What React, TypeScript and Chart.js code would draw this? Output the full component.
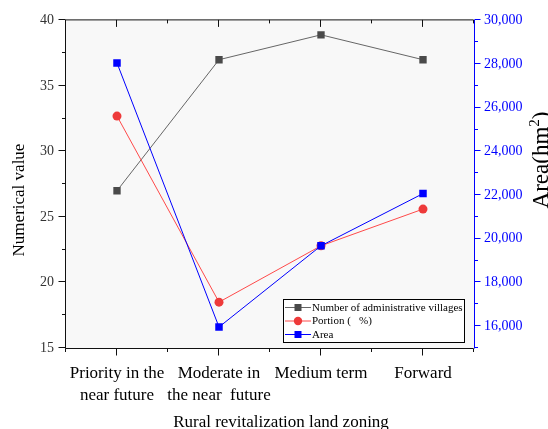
import React, { useEffect, useRef } from "react";
import { Chart, registerables } from "chart.js";

Chart.register(...registerables);

// ---- data ----
const categories: (string | string[])[] = [
  ["Priority in the", "near future"],
  ["Moderate in", "the near  future"],
  "Medium term",
  "Forward",
];
const villages = [27, 37, 38.9, 37];
const portion = [32.7, 18.5, 22.8, 25.6];
const area = [28050, 15960, 19680, 22070];

const leftMin = 15;
const leftMax = 40;
const leftStep = 5;
const rightMin = 15000;
const rightMax = 30000;
const rightStep = 2000;
const rightTickValues = [16000, 18000, 20000, 22000, 24000, 26000, 28000, 30000];

const seriesNames = ["Number of administrative villages", "Portion (   %)", "Area"];
const xTitle = "Rural revitalization land zoning";
const yTitle = "Numerical value";

const SERIF = "'Liberation Serif', 'Times New Roman', serif";

const framePlugin = {
  id: "frame",
  beforeDraw(chart: any) {
    const { ctx, chartArea } = chart;
    const { left, top, right, bottom } = chartArea;
    ctx.save();
    ctx.fillStyle = "#ffffff";
    ctx.fillRect(0, 0, chart.width, chart.height);
    ctx.fillStyle = "#f8f8f8";
    ctx.fillRect(left, top, right - left, bottom - top);
    ctx.restore();
  },
  beforeDatasetsDraw(chart: any) {
    const { ctx, chartArea, scales } = chart;
    const { left, top, right, bottom } = chartArea;
    const L = left - 0.5, T = top - 0.5, R = right - 0.5, B = bottom + 0.5;
    ctx.save();
    ctx.lineWidth = 1;
    ctx.strokeStyle = "#111";
    ctx.beginPath();
    ctx.moveTo(L, B); ctx.lineTo(L, T); ctx.lineTo(R, T);
    ctx.moveTo(L, B); ctx.lineTo(R, B);
    ctx.stroke();
    // x ticks
    const xs = scales.x;
    const n = categories.length;
    ctx.beginPath();
    for (let i = -0.5; i <= n - 0.5 + 1e-6; i += 0.5) {
      const px = Math.round(xs.getPixelForValue(i)) - 0.5;
      const major = Number.isInteger(i);
      const len = major ? 7 : 3.5;
      ctx.moveTo(px, B); ctx.lineTo(px, B + len);
      ctx.moveTo(px, T); ctx.lineTo(px, T + len);
    }
    ctx.stroke();
    // left y ticks
    const ys = scales.y;
    ctx.beginPath();
    for (let v = leftMin; v <= leftMax + 1e-6; v += leftStep / 2) {
      const py = Math.round(ys.getPixelForValue(v)) - 0.5;
      const major = Math.abs(v / leftStep - Math.round(v / leftStep)) < 1e-6;
      ctx.moveTo(L, py); ctx.lineTo(L - (major ? 7 : 3.5), py);
    }
    ctx.stroke();
    // right axis (blue)
    const y1 = scales.y1;
    ctx.strokeStyle = "#0000ff";
    ctx.beginPath();
    ctx.moveTo(R + 1, T); ctx.lineTo(R + 1, B);
    for (let v = rightMin; v <= rightMax + 1e-6; v += rightStep / 2) {
      const py = Math.round(y1.getPixelForValue(v)) - 0.5;
      const major = v % rightStep === 0;
      ctx.moveTo(R + 1, py); ctx.lineTo(R + 1 + (major ? 6 : 3.5), py);
    }
    ctx.stroke();
    ctx.restore();
  },
  afterDraw(chart: any) {
    const { ctx } = chart;
    ctx.save();
    ctx.fillStyle = "#000";
    ctx.font = `17px ${SERIF}`;
    // x title
    ctx.textAlign = "center";
    ctx.textBaseline = "alphabetic";
    ctx.fillText(xTitle, 281, 427);
    // left title
    ctx.save();
    ctx.translate(24, 200);
    ctx.rotate(-Math.PI / 2);
    ctx.textBaseline = "alphabetic";
    ctx.fillText(yTitle, 0, 0);
    ctx.restore();
    // right title with superscript
    ctx.save();
    ctx.translate(548, 160);
    ctx.rotate(-Math.PI / 2);
    ctx.textAlign = "left";
    ctx.textBaseline = "alphabetic";
    const big = `23px ${SERIF}`;
    const small = `15px ${SERIF}`;
    const p1 = "Area(hm";
    const p2 = "2";
    const p3 = ")";
    ctx.font = big;
    const w1 = ctx.measureText(p1).width;
    ctx.font = small;
    const w2 = ctx.measureText(p2).width;
    ctx.font = big;
    const w3 = ctx.measureText(p3).width;
    const x0 = -(w1 + w2 + w3) / 2;
    ctx.fillText(p1, x0, 0);
    ctx.font = small;
    ctx.fillText(p2, x0 + w1, -9);
    ctx.font = big;
    ctx.fillText(p3, x0 + w1 + w2, 0);
    ctx.restore();

    // legend
    const bx = 283.5, by = 299.5, bw = 181, bh = 43;
    ctx.fillStyle = "#ffffff";
    ctx.fillRect(bx, by, bw, bh);
    ctx.strokeStyle = "#000";
    ctx.lineWidth = 1;
    ctx.strokeRect(bx, by, bw, bh);
    const rows = [307.5, 321, 334.5];
    chart.data.datasets.forEach((ds: any, i: number) => {
      const yy = rows[i];
      ctx.strokeStyle = ds.borderColor;
      ctx.lineWidth = 1;
      ctx.beginPath();
      ctx.moveTo(285, yy); ctx.lineTo(311, yy);
      ctx.stroke();
      ctx.fillStyle = ds.pointBackgroundColor;
      if (ds.pointStyle === "circle") {
        ctx.beginPath();
        ctx.arc(298, yy, 4.2, 0, Math.PI * 2);
        ctx.fill();
      } else {
        ctx.fillRect(294.5, yy - 3.5, 7, 7);
      }
      ctx.fillStyle = "#000";
      ctx.font = `11px ${SERIF}`;
      ctx.textAlign = "left";
      ctx.textBaseline = "middle";
      ctx.fillText(ds.label, 312, yy + 0.5);
    });
    ctx.restore();
  },
};

export default function App() {
  const ref = useRef<HTMLCanvasElement>(null);
  useEffect(() => {
    document.body.style.margin = "0";
    if (!ref.current) return;
    const chart = new Chart(ref.current, {
      type: "line",
      data: {
        labels: categories as any,
        datasets: [
          {
            label: seriesNames[0],
            data: villages,
            yAxisID: "y",
            borderColor: "#666666",
            backgroundColor: "#4a4a4a",
            pointBackgroundColor: "#4a4a4a",
            pointStyle: "rect",
            pointRadius: 5.2,
            pointBorderWidth: 0,
            borderWidth: 1,
            order: 2,
          },
          {
            label: seriesNames[1],
            data: portion,
            yAxisID: "y",
            borderColor: "#ff4a4a",
            backgroundColor: "#ee3a3a",
            pointBackgroundColor: "#ee3a3a",
            pointStyle: "circle",
            pointRadius: 4.5,
            pointBorderWidth: 0,
            borderWidth: 1,
            order: 1,
          },
          {
            label: seriesNames[2],
            data: area,
            yAxisID: "y1",
            borderColor: "#0000ff",
            backgroundColor: "#0000ff",
            pointBackgroundColor: "#0000ff",
            pointStyle: "rect",
            pointRadius: 5.3,
            pointBorderWidth: 0,
            borderWidth: 1,
            order: 0,
          },
        ],
      },
      options: {
        responsive: false,
        animation: false,
        events: [],
        layout: { padding: { top: 17, left: 0, right: 0, bottom: 0 } },
        plugins: {
          legend: { display: false },
          tooltip: { enabled: false },
          title: { display: false },
        },
        scales: {
          x: {
            type: "category",
            offset: true,
            grid: { display: false, drawTicks: false, tickLength: 0 },
            border: { display: false },
            ticks: {
              color: "#000",
              font: { family: SERIF, size: 17, lineHeight: 22 / 17 },
              padding: 15,
              maxRotation: 0,
              autoSkip: false,
            },
            afterFit: (s: any) => { s.height = 81; },
          },
          y: {
            position: "left",
            min: leftMin,
            max: leftMax,
            grid: { display: false, drawTicks: false, tickLength: 0 },
            border: { display: false },
            ticks: {
              stepSize: leftStep,
              color: "#333",
              font: { family: SERIF, size: 14 },
              padding: 12,
            },
            afterFit: (s: any) => { s.width = 66; },
          },
          y1: {
            position: "right",
            min: rightMin,
            max: rightMax,
            grid: { display: false, drawTicks: false, tickLength: 0 },
            border: { display: false },
            afterBuildTicks: (s: any) => {
              s.ticks = rightTickValues.map((v) => ({ value: v }));
            },
            ticks: {
              color: "#0000ff",
              font: { family: SERIF, size: 14 },
              padding: 10,
              callback: (v: any) => Number(v).toLocaleString("en-US"),
            },
            afterFit: (s: any) => { s.width = 74; },
          },
        },
      },
      plugins: [framePlugin],
    });
    return () => chart.destroy();
  }, []);
  return <canvas ref={ref} width={548} height={429} style={{ display: "block", width: 548, height: 429 }} />;
}
